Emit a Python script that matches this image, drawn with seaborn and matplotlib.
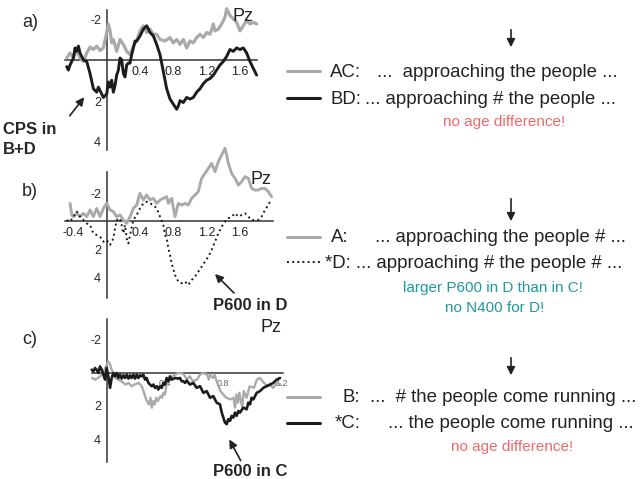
import seaborn as sns
import matplotlib.pyplot as plt

sns.set_style("white")
plt.rcParams['font.family'] = ['Liberation Sans', 'DejaVu Sans']

# panel a: Pz, AC (grey) vs BD (black)
a_t_ac = [-0.48, -0.44, -0.40, -0.36, -0.32, -0.28, -0.24, -0.20, -0.16, -0.12, -0.08, -0.04,
          0.00, 0.02, 0.04, 0.06, 0.08, 0.12, 0.16, 0.20, 0.24, 0.28, 0.32, 0.36, 0.40, 0.44,
          0.48, 0.52, 0.56, 0.60, 0.64, 0.70, 0.76, 0.80, 0.84, 0.88, 0.92, 0.96, 1.00, 1.04,
          1.08, 1.12, 1.16, 1.20, 1.24, 1.28, 1.30, 1.34, 1.38, 1.42, 1.44, 1.48, 1.52, 1.56,
          1.60, 1.64, 1.68, 1.72, 1.76, 1.80]
a_v_ac = [-0.12, -0.37, -0.12, -0.54, -0.12, 0.05, -0.37, -0.66, -0.54, -0.71, -0.49, -0.62,
          -1.38, -1.80, -1.46, -0.87, -1.04, -0.45, -1.04, -0.79, -0.45, -0.29, -0.71, -0.96, -1.46, -1.71,
          -1.38, -1.55, -1.29, -1.29, -1.04, -0.96, -1.13, -0.87, -1.04, -0.79, -1.04, -0.62, -0.96, -0.87,
          -1.13, -1.29, -1.13, -1.38, -1.29, -1.80, -1.46, -1.55, -1.80, -2.13, -2.55, -2.22, -2.05, -1.88,
          -1.46, -1.71, -1.97, -1.80, -1.88, -1.80]
a_t_bd = [-0.48, -0.46, -0.44, -0.40, -0.38, -0.36, -0.34, -0.32, -0.28, -0.24, -0.20, -0.16,
          -0.12, -0.10, -0.08, -0.04, 0.00, 0.02, 0.04, 0.06, 0.08, 0.10, 0.12, 0.14, 0.16, 0.18,
          0.20, 0.22, 0.24, 0.26, 0.28, 0.30, 0.32, 0.34, 0.36, 0.40, 0.44, 0.48, 0.52, 0.56,
          0.60, 0.64, 0.68, 0.72, 0.76, 0.80, 0.84, 0.86, 0.88, 0.92, 0.96, 1.00, 1.04, 1.08,
          1.12, 1.16, 1.20, 1.24, 1.28, 1.32, 1.36, 1.40, 1.44, 1.48, 1.52, 1.56, 1.60, 1.64,
          1.68, 1.72, 1.74, 1.76, 1.80]
a_v_bd = [0.30, 0.47, 0.22, -0.12, -0.62, -0.45, -0.71, -0.37, -0.03, 0.05, 0.64, 1.39,
          1.56, 1.31, 1.48, 1.82, 1.65, 1.06, 1.31, 0.97, 1.56, 1.23, 0.72, 0.47, -0.12, -0.03,
          0.64, 0.81, 0.22, 0.13, 0.13, -0.29, -0.62, -0.96, -0.96, -1.21, -1.55, -1.71, -1.38, -1.21,
          -0.79, -0.29, 0.55, 1.39, 1.90, 2.15, 2.40, 2.24, 1.98, 2.07, 1.82, 1.90, 1.82, 1.56,
          1.39, 1.14, 0.97, 0.89, 0.72, 0.47, 0.22, 0.05, -0.20, -0.54, -0.45, -0.62, -0.54, -0.62,
          -0.37, 0.05, 0.22, 0.39, 0.72]

# panel b: Pz, A (grey) vs *D (dotted)
b_t_a = [-0.44, -0.42, -0.40, -0.36, -0.32, -0.28, -0.24, -0.20, -0.16, -0.12, -0.08, -0.04,
         0.00, 0.04, 0.08, 0.12, 0.16, 0.20, 0.24, 0.28, 0.32, 0.36, 0.40, 0.44, 0.48, 0.52,
         0.56, 0.60, 0.64, 0.68, 0.72, 0.74, 0.78, 0.82, 0.86, 0.90, 0.94, 0.98, 1.02, 1.06,
         1.10, 1.14, 1.18, 1.22, 1.26, 1.30, 1.34, 1.38, 1.42, 1.44, 1.46, 1.50, 1.54, 1.58,
         1.62, 1.66, 1.70, 1.74, 1.78, 1.82, 1.86, 1.90, 1.94, 1.98]
b_v_a = [-1.26, -0.43, -0.31, -0.55, -0.31, -0.55, -0.31, -0.79, -0.31, -0.90, -0.31, -0.90,
         -1.26, -0.79, -0.67, -0.31, -0.43, -0.07, 0.17, -0.31, -0.90, -1.14, -1.98, -1.50, -1.86, -1.50,
         -1.62, -1.26, -1.50, -1.62, -1.74, -1.26, -1.62, -0.31, -1.26, -1.14, -1.26, -1.14, -1.62, -1.86,
         -2.10, -3.05, -3.40, -3.76, -4.12, -3.52, -4.24, -4.71, -5.19, -4.71, -4.12, -3.40, -3.05, -2.57,
         -2.81, -3.17, -3.05, -2.33, -2.21, -2.21, -2.33, -2.33, -2.10, -1.74]
b_t_d = [-0.48, -0.44, -0.40, -0.36, -0.34, -0.32, -0.28, -0.24, -0.20, -0.16, -0.12, -0.08,
         -0.04, 0.00, 0.04, 0.08, 0.10, 0.12, 0.16, 0.18, 0.20, 0.22, 0.24, 0.26, 0.28, 0.32,
         0.36, 0.40, 0.44, 0.48, 0.52, 0.56, 0.60, 0.64, 0.68, 0.70, 0.72, 0.74, 0.76, 0.78,
         0.82, 0.86, 0.90, 0.94, 0.98, 1.02, 1.06, 1.10, 1.14, 1.18, 1.22, 1.26, 1.30, 1.34,
         1.38, 1.42, 1.46, 1.50, 1.54, 1.58, 1.62, 1.66, 1.70, 1.74, 1.78, 1.82, 1.86, 1.90,
         1.94, 1.96]
b_v_d = [-0.07, 0.05, -0.31, -0.67, -0.55, -0.31, -0.07, 0.17, 0.29, 0.88, 1.00, 1.12,
         1.48, 1.36, 1.71, 1.24, 0.52, -0.07, -0.19, 0.29, 0.88, 0.29, 1.24, 1.60, 1.00, -0.07,
         -0.43, -0.90, -1.26, -1.38, -1.26, -1.14, -0.90, -0.31, 0.29, 1.00, 1.24, 1.95, 2.43, 3.02,
         3.86, 4.33, 4.45, 4.33, 4.57, 4.21, 3.98, 3.62, 3.26, 2.90, 2.55, 2.07, 1.48, 0.88,
         0.40, 0.05, -0.19, -0.31, -0.55, -0.31, -0.43, -0.55, -0.31, -0.07, -0.07, -0.07, -0.31, -0.79,
         -1.14, -1.38]

# panel c: Pz, B (grey) vs *C (black)
c_t_b = [-0.10, -0.08, -0.06, -0.03, -0.01, 0.01, 0.02, 0.03, 0.05, 0.06, 0.08, 0.10,
         0.13, 0.15, 0.17, 0.19, 0.22, 0.24, 0.26, 0.27, 0.29, 0.30, 0.31, 0.32, 0.33, 0.34,
         0.35, 0.37, 0.38, 0.39, 0.40, 0.41, 0.42, 0.45, 0.47, 0.49, 0.51, 0.53, 0.55, 0.57,
         0.59, 0.62, 0.64, 0.66, 0.69, 0.70, 0.71, 0.73, 0.74, 0.75, 0.78, 0.80, 0.82, 0.85,
         0.87, 0.88, 0.89, 0.90, 0.91, 0.93, 0.94, 0.96, 0.98, 1.01, 1.03, 1.05, 1.07, 1.10,
         1.12, 1.14, 1.17, 1.19]
c_v_b = [0.30, 0.40, 0.30, 0.10, -0.30, -0.70, -0.60, -0.30, 0.10, 0.30, 0.40, 0.50,
         0.70, 0.60, 0.80, 0.70, 0.60, 0.80, 1.30, 1.60, 1.90, 1.50, 2.10, 1.70, 1.90, 1.50,
         1.70, 1.40, 1.50, 1.20, 1.30, 0.70, 0.60, 0.20, 0.10, 0.00, 0.00, 0.10, 0.40, 0.20,
         0.50, 0.40, 0.10, 0.00, 0.10, 0.40, 0.10, 0.30, 0.10, 0.40, 1.10, 1.30, 1.50, 1.60,
         1.50, 2.10, 1.30, 1.80, 1.20, 2.10, 1.10, 1.50, 0.80, 0.90, 0.40, 0.30, 0.50, 0.80,
         0.70, 0.90, 0.60, 0.70]
c_t_c = [-0.103, -0.091, -0.080, -0.069, -0.057, -0.046, -0.034, -0.023, -0.011, 0.000, 0.011, 0.023,
         0.034, 0.046, 0.057, 0.069, 0.080, 0.091, 0.103, 0.114, 0.126, 0.137, 0.149, 0.160, 0.171, 0.183,
         0.194, 0.206, 0.217, 0.229, 0.240, 0.251, 0.263, 0.274, 0.286, 0.297, 0.309, 0.320, 0.331, 0.343,
         0.354, 0.366, 0.377, 0.389, 0.400, 0.411, 0.423, 0.434, 0.446, 0.469, 0.491, 0.503, 0.514, 0.526,
         0.537, 0.549, 0.571, 0.594, 0.617, 0.640, 0.663, 0.686, 0.709, 0.731, 0.754, 0.777, 0.789, 0.800,
         0.811, 0.823, 0.834, 0.846, 0.857, 0.869, 0.880, 0.891, 0.903, 0.914, 0.937, 0.960, 0.971, 0.983,
         0.994, 1.006, 1.029, 1.051, 1.074, 1.097, 1.120, 1.143, 1.166, 1.189]
c_v_c = [-0.20, -0.10, -0.30, -0.20, 0.00, -0.40, -0.20, 0.10, 0.40, -0.30, 0.20, 0.90,
         0.30, 0.00, 0.20, 0.00, 0.30, 0.10, 0.34, 0.14, 0.30, 0.10, 0.34, 0.14, 0.30, 0.10,
         0.34, 0.10, 0.30, 0.14, 0.20, 0.10, 0.40, 0.30, 0.60, 0.70, 0.80, 0.70, 0.90, 0.80,
         1.00, 0.80, 0.90, 0.60, 0.70, 0.30, 0.50, 0.20, 0.40, 0.30, 0.34, 0.30, 0.50, 0.50,
         0.60, 0.46, 0.70, 0.60, 0.90, 0.80, 1.20, 1.10, 1.50, 1.40, 1.80, 1.90, 2.40, 2.70,
         3.00, 3.10, 2.80, 2.90, 2.60, 2.70, 2.40, 2.60, 2.30, 2.40, 2.10, 2.20, 1.80, 1.90,
         1.50, 1.60, 1.20, 1.10, 0.90, 0.80, 0.70, 0.60, 0.40, 0.30]

W, H = 640, 479
GREY = '#aaaaaa'
DARK = '#1c1c1c'
RED = '#f4676a'
TEAL = '#20999a'

fig = plt.figure(figsize=(W / 100, H / 100), dpi=100)


def erp_axes(box, t0, v0, pps, ppu):
    # box in pixels (x0, x1, y0, y1); t0/v0 = pixel of the origin
    x0, x1, y0, y1 = box
    ax = fig.add_axes([x0 / W, 1 - y1 / H, (x1 - x0) / W, (y1 - y0) / H])
    ax.patch.set_alpha(0)
    return ax, ((x0 - t0) / pps, (x1 - t0) / pps), ((y1 - v0) / ppu, (y0 - v0) / ppu)


def style_axes(ax, xlim, ylim, xb, yb, xticks, yticks, xlabels, xfs=9, xcol='#222'):
    ax.set(xlabel='', ylabel='')
    ax.set_xlim(*xlim)
    ax.set_ylim(*ylim)
    for s in ['top', 'right']:
        ax.spines[s].set_visible(False)
    for s in ['left', 'bottom']:
        ax.spines[s].set_position(('data', 0))
        ax.spines[s].set_color('#333')
        ax.spines[s].set_linewidth(1.1)
        ax.spines[s].set_zorder(1)
    ax.spines['bottom'].set_bounds(*xb)
    ax.spines['left'].set_bounds(*yb)
    ax.set_xticks(xticks)
    ax.set_xticklabels(xlabels, fontsize=xfs, color=xcol)
    ax.set_yticks(yticks)
    ax.set_yticklabels([f'{y:g}' for y in yticks], fontsize=9)
    ax.tick_params(direction='inout', length=6, width=1, color='#333', pad=1)
    ax.grid(False)


# a)
ax_a, xl, yl = erp_axes((55, 275, 5, 160), 106.7, 60.5, 83.3, 20.3)
sns.lineplot(x=a_t_ac, y=a_v_ac, ax=ax_a, color=GREY, lw=2.3, zorder=3, estimator=None, sort=False)
sns.lineplot(x=a_t_bd, y=a_v_bd, ax=ax_a, color=DARK, lw=2.1, zorder=4, estimator=None, sort=False)
style_axes(ax_a, xl, yl, (-0.5, 1.8), (-2.5, 4.4), [-0.4, 0.4, 0.8, 1.2, 1.6], [-2, 2, 4],
           ['', '0.4', '0.8', '1.2', '1.6'])

# b)
ax_b, xl, yl = erp_axes((55, 285, 140, 302), 106.7, 221, 83.3, 14)
sns.lineplot(x=b_t_a, y=b_v_a, ax=ax_b, color=GREY, lw=2.1, zorder=3, estimator=None, sort=False)
sns.lineplot(x=b_t_d, y=b_v_d, ax=ax_b, color=DARK, lw=1.4, linestyle=':', zorder=4,
             estimator=None, sort=False)
style_axes(ax_b, xl, yl, (-0.5, 2.0), (-3.5, 5.5), [-0.4, 0.4, 0.8, 1.2, 1.6], [-2, 2, 4],
           ['-0.4', '0.4', '0.8', '1.2', '1.6'])

# c)
ax_c, xl, yl = erp_axes((85, 290, 315, 465), 106.7, 373, 145.8, 16.5)
sns.lineplot(x=c_t_b, y=c_v_b, ax=ax_c, color=GREY, lw=1.7, zorder=3, estimator=None, sort=False)
sns.lineplot(x=c_t_c, y=c_v_c, ax=ax_c, color=DARK, lw=1.9, zorder=4, estimator=None, sort=False)
style_axes(ax_c, xl, yl, (-0.1, 1.21), (-3.3, 5.4), [0.4, 0.8, 1.2], [-2, 2, 4],
           ['0.4', '0.8', '1.2'], xfs=6.5, xcol='#666')

# overlay for labels, legend keys and arrows (pixel coordinates)
ov = fig.add_axes([0, 0, 1, 1], zorder=10)
ov.set_xlim(0, W)
ov.set_ylim(H, 0)
ov.axis('off')

for lab, y in [('a)', 22), ('b)', 192), ('c)', 340)]:
    ov.text(22, y, lab, fontsize=13, va='center', ha='left')
for x, y in [(233, 16), (250, 180), (260, 327)]:
    ov.text(x, y, 'Pz', fontsize=13, va='center', ha='left', color='#222')

bold = dict(fontsize=12, fontweight='bold', va='center', ha='left')
ov.text(3, 130, 'CPS in', **bold)
ov.text(3, 149, 'B+D', **bold)
ov.text(213, 306, 'P600 in D', **bold)
ov.text(213, 472, 'P600 in C', **bold)

arr = dict(arrowstyle='-|>', color='#222', lw=1.2, mutation_scale=12)
ov.annotate('', xy=(86, 95), xytext=(68, 118), arrowprops=arr)
ov.annotate('', xy=(213, 272), xytext=(236, 295), arrowprops=arr)
ov.annotate('', xy=(228, 437), xytext=(242, 463), arrowprops=arr)
for y0, y1 in [(27, 50), (196, 224), (355, 378)]:
    ov.annotate('', xy=(511, y1), xytext=(511, y0), arrowprops=arr)

leg = dict(fontsize=13.4, va='center', ha='left', color='#222')
# a)
ov.plot([287, 320], [71, 71], color=GREY, lw=2.2)
ov.plot([287, 320], [98, 98], color=DARK, lw=2.2)
ov.text(330, 72, 'AC:', **leg)
ov.text(377, 72, '...  approaching the people ...', **leg)
ov.text(330, 99, 'BD:', **leg)
ov.text(365, 99, '... approaching # the people ...', **leg)
ov.text(504, 122, 'no age difference!', fontsize=11, color=RED, ha='center', va='center')
# b)
ov.plot([287, 320], [237, 237], color=GREY, lw=2.2)
ov.plot([287, 320], [262, 262], color=DARK, lw=1.4, linestyle=':')
ov.text(331, 237, 'A:', **leg)
ov.text(375, 237, '... approaching the people # ...', **leg)
ov.text(325, 263, '*D: ... approaching # the people # ...', **leg)
ov.text(493, 288, 'larger P600 in D than in C!', fontsize=11, color=TEAL, ha='center', va='center')
ov.text(495, 308, 'no N400 for D!', fontsize=11, color=TEAL, ha='center', va='center')
# c)
ov.plot([287, 320], [397, 397], color=GREY, lw=2.2)
ov.plot([287, 320], [423, 423], color=DARK, lw=2.2)
ov.text(342, 397, 'B:', **leg)
ov.text(370, 397, '...  # the people come running ...', **leg)
ov.text(335, 424, '*C:', **leg)
ov.text(388, 424, '... the people come running ...', **leg)
ov.text(512, 447, 'no age difference!', fontsize=11, color=RED, ha='center', va='center')

fig.savefig('out.png', dpi=100)
